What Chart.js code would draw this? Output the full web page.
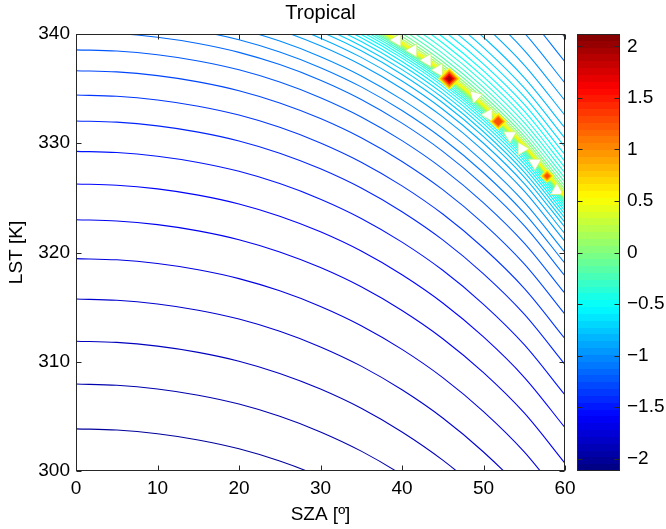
<!DOCTYPE html>
<html>
<head>
<meta charset="utf-8">
<title>Tropical</title>
<script src="https://cdn.jsdelivr.net/npm/chart.js@4/dist/chart.umd.min.js"></script>
<style>
  html, body { margin: 0; padding: 0; background: #fff; }
  #wrap { position: relative; width: 666px; height: 529px; }
  #wrap canvas { position: absolute; left: 0; top: 0; }
</style>
</head>
<body>
<div id="wrap">
  <canvas id="main" width="666" height="529"></canvas>
  <canvas id="cbar" width="666" height="529"></canvas>
</div>
<script>
// ---- data ---------------------------------------------------------------
// Solar zenith angles at which every contour is sampled
const SZA = [0, 5, 10, 15, 20, 25, 30, 35, 40, 45, 50, 55, 60];

const X_TICKS = [0, 10, 20, 30, 40, 50, 60];
const Y_TICKS = [300, 310, 320, 330, 340];
const CBAR_TICKS = [-2, -1.5, -1, -0.5, 0, 0.5, 1, 1.5, 2];
const CBAR_RANGE = [-2.12, 2.12];

// Contours below the ridge: level, then LST [K] at each SZA
const LOWER_LEVELS = [-2.00, -1.93, -1.86, -1.79, -1.72, -1.65, -1.58, -1.51, -1.44, -1.37,
                      -1.30, -1.23, -1.16, -1.09, -1.02, -0.95, -0.88, -0.81, -0.74, -0.67,
                      -0.60, -0.53, -0.46, -0.39, -0.32, -0.20, -0.05, 0.10, 0.25, 0.40, 0.50];
const LOWER_LST = [
  [303.86, 303.75, 303.41, 302.84, 302.03, 300.91, 299.48, 297.72, 295.55, 292.97, 289.86, 286.17, 281.56],
  [307.96, 307.85, 307.51, 306.94, 306.13, 305.01, 303.58, 301.82, 299.65, 297.07, 293.96, 290.27, 285.66],
  [311.88, 311.77, 311.43, 310.86, 310.05, 308.93, 307.50, 305.74, 303.57, 300.99, 297.88, 294.19, 289.58],
  [315.74, 315.63, 315.29, 314.72, 313.91, 312.79, 311.36, 309.60, 307.43, 304.85, 301.74, 298.05, 293.44],
  [319.44, 319.33, 318.99, 318.42, 317.61, 316.49, 315.06, 313.30, 311.13, 308.55, 305.44, 301.75, 297.14],
  [323.00, 322.89, 322.55, 321.98, 321.17, 320.05, 318.62, 316.86, 314.69, 312.11, 309.00, 305.31, 300.70],
  [326.27, 326.16, 325.82, 325.25, 324.44, 323.32, 321.89, 320.13, 317.96, 315.38, 312.27, 308.58, 303.97],
  [329.26, 329.15, 328.81, 328.24, 327.43, 326.31, 324.88, 323.12, 320.95, 318.37, 315.26, 311.57, 306.96],
  [332.04, 331.93, 331.59, 331.02, 330.21, 329.09, 327.66, 325.90, 323.73, 321.15, 318.04, 314.35, 309.74],
  [334.41, 334.30, 333.96, 333.39, 332.58, 331.46, 330.03, 328.27, 326.10, 323.52, 320.41, 316.72, 312.11],
  [336.64, 336.53, 336.19, 335.62, 334.81, 333.69, 332.26, 330.50, 328.33, 325.75, 322.64, 318.95, 314.34],
  [338.55, 338.44, 338.10, 337.53, 336.72, 335.60, 334.17, 332.41, 330.24, 327.66, 324.55, 320.86, 316.25],
  [340.15, 340.04, 339.70, 339.13, 338.32, 337.20, 335.77, 334.01, 331.84, 329.26, 326.15, 322.46, 317.85],
  [341.30, 341.19, 340.85, 340.28, 339.47, 338.35, 336.92, 335.16, 332.99, 330.41, 327.30, 323.61, 319.00],
  [342.30, 342.19, 341.85, 341.28, 340.47, 339.35, 337.92, 336.16, 333.99, 331.41, 328.30, 324.61, 320.00],
  [343.30, 343.19, 342.85, 342.28, 341.47, 340.35, 338.92, 337.16, 334.99, 332.41, 329.30, 325.61, 321.00],
  [344.00, 343.89, 343.55, 342.98, 342.17, 341.05, 339.62, 337.86, 335.69, 333.11, 330.00, 326.31, 321.70],
  [344.60, 344.49, 344.15, 343.58, 342.77, 341.65, 340.22, 338.46, 336.29, 333.71, 330.60, 326.91, 322.30],
  [345.05, 344.94, 344.60, 344.03, 343.22, 342.10, 340.67, 338.91, 336.74, 334.16, 331.05, 327.36, 322.75],
  [345.45, 345.34, 345.00, 344.43, 343.62, 342.50, 341.07, 339.31, 337.14, 334.56, 331.45, 327.76, 323.15],
  [345.80, 345.69, 345.35, 344.78, 343.97, 342.85, 341.42, 339.66, 337.49, 334.91, 331.80, 328.11, 323.50],
  [346.10, 345.99, 345.65, 345.08, 344.27, 343.15, 341.72, 339.96, 337.79, 335.21, 332.10, 328.41, 323.80],
  [346.35, 346.24, 345.90, 345.33, 344.52, 343.40, 341.97, 340.21, 338.04, 335.46, 332.35, 328.66, 324.05],
  [346.57, 346.46, 346.12, 345.55, 344.74, 343.62, 342.19, 340.43, 338.26, 335.68, 332.57, 328.88, 324.27],
  [346.76, 346.65, 346.31, 345.74, 344.93, 343.81, 342.38, 340.62, 338.45, 335.87, 332.76, 329.07, 324.46],
  [346.92, 346.81, 346.47, 345.90, 345.09, 343.97, 342.54, 340.78, 338.61, 336.03, 332.92, 329.23, 324.62],
  [347.05, 346.94, 346.60, 346.03, 345.22, 344.10, 342.67, 340.91, 338.74, 336.16, 333.05, 329.36, 324.75],
  [347.16, 347.05, 346.71, 346.14, 345.33, 344.21, 342.78, 341.02, 338.85, 336.27, 333.16, 329.47, 324.86],
  [347.25, 347.14, 346.80, 346.23, 345.42, 344.30, 342.87, 341.11, 338.94, 336.36, 333.25, 329.56, 324.95],
  [347.32, 347.21, 346.87, 346.30, 345.49, 344.37, 342.94, 341.18, 339.01, 336.43, 333.32, 329.63, 325.02],
  [347.38, 347.27, 346.93, 346.36, 345.55, 344.43, 343.00, 341.24, 339.07, 336.49, 333.38, 329.69, 325.08]
];

// The ridge itself
const RIDGE_LEVELS = [0.6];
const RIDGE_LST = [
  [347.45, 347.34, 347.00, 346.43, 345.62, 344.50, 343.07, 341.31, 339.14, 336.56, 333.45, 329.76, 325.15]
];

// Contours above the ridge (upper-right corner)
const UPPER_LEVELS = [0.45, 0.30, 0.15, 0.00, -0.12, -0.22, -0.32, -0.39, -0.46, -0.53,
                      -0.60, -0.67, -0.74, -0.81, -0.88, -0.95, -1.02, -1.09, -1.16];
const UPPER_LST = [
  [347.55, 347.44, 347.10, 346.53, 345.72, 344.60, 343.17, 341.41, 339.24, 336.66, 333.55, 329.86, 325.25],
  [347.68, 347.57, 347.23, 346.66, 345.85, 344.73, 343.30, 341.54, 339.37, 336.79, 333.68, 329.99, 325.38],
  [347.85, 347.74, 347.40, 346.83, 346.02, 344.90, 343.47, 341.71, 339.54, 336.96, 333.85, 330.16, 325.55],
  [348.08, 347.97, 347.63, 347.06, 346.25, 345.13, 343.70, 341.94, 339.77, 337.19, 334.08, 330.39, 325.78],
  [348.37, 348.26, 347.92, 347.35, 346.54, 345.42, 343.99, 342.23, 340.06, 337.48, 334.37, 330.68, 326.07],
  [348.72, 348.61, 348.27, 347.70, 346.89, 345.77, 344.34, 342.58, 340.41, 337.83, 334.72, 331.03, 326.42],
  [349.12, 349.01, 348.67, 348.10, 347.29, 346.17, 344.74, 342.98, 340.81, 338.23, 335.12, 331.43, 326.82],
  [349.57, 349.46, 349.12, 348.55, 347.74, 346.62, 345.19, 343.43, 341.26, 338.68, 335.57, 331.88, 327.27],
  [350.07, 349.96, 349.62, 349.05, 348.24, 347.12, 345.69, 343.93, 341.76, 339.18, 336.07, 332.38, 327.77],
  [350.62, 350.51, 350.17, 349.60, 348.79, 347.67, 346.24, 344.48, 342.31, 339.73, 336.62, 332.93, 328.32],
  [351.25, 351.14, 350.80, 350.23, 349.42, 348.30, 346.87, 345.11, 342.94, 340.36, 337.25, 333.56, 328.95],
  [351.95, 351.84, 351.50, 350.93, 350.12, 349.00, 347.57, 345.81, 343.64, 341.06, 337.95, 334.26, 329.65],
  [352.75, 352.64, 352.30, 351.73, 350.92, 349.80, 348.37, 346.61, 344.44, 341.86, 338.75, 335.06, 330.45],
  [353.70, 353.59, 353.25, 352.68, 351.87, 350.75, 349.32, 347.56, 345.39, 342.81, 339.70, 336.01, 331.40],
  [354.85, 354.74, 354.40, 353.83, 353.02, 351.90, 350.47, 348.71, 346.54, 343.96, 340.85, 337.16, 332.55],
  [356.20, 356.09, 355.75, 355.18, 354.37, 353.25, 351.82, 350.06, 347.89, 345.31, 342.20, 338.51, 333.90],
  [357.80, 357.69, 357.35, 356.78, 355.97, 354.85, 353.42, 351.66, 349.49, 346.91, 343.80, 340.11, 335.50],
  [359.75, 359.64, 359.30, 358.73, 357.92, 356.80, 355.37, 353.61, 351.44, 348.86, 345.75, 342.06, 337.45],
  [362.00, 361.89, 361.55, 360.98, 360.17, 359.05, 357.62, 355.86, 353.69, 351.11, 348.00, 344.31, 339.70]
];

// Empty grid cells along the ridge
const GAP_SZA = [39.4, 41.35, 43.1, 44.5, 49.0, 50.6, 53.25, 54.7, 56.3, 59.0];
const GAP_LST = [339.45, 338.5, 337.6, 336.7, 334.3, 332.6, 330.7, 329.5, 328.2, 325.65];

// Local maxima on the ridge
const PEAK_SZA = [45.8, 51.8, 57.8, 60.0];
const PEAK_LST = [335.9, 332.0, 327.0, 325.4];
const PEAK_VALUE = [2.05, 1.6, 1.3, 0.85];
const RING_LEVELS = [0.55, 0.9, 1.25, 1.6, 1.95];

// ---- styling helpers ----------------------------------------------------
const FONT = "'Liberation Sans', Arial, Helvetica, sans-serif";
const TEXT = '#000';
const [C_MIN, C_MAX] = CBAR_RANGE;
const GAP_ROTATION = [150, 150, 150, -90, -45, -90, 180, 90, 180, 0];

function jet(v) {
  const t = Math.min(1, Math.max(0, (v - C_MIN) / (C_MAX - C_MIN)));
  const c = x => Math.round(255 * Math.min(1, Math.max(0, x)));
  const r = c(Math.min(4 * t - 1.5, -4 * t + 4.5));
  const g = c(Math.min(4 * t - 0.5, -4 * t + 3.5));
  const b = c(Math.min(4 * t + 0.5, -4 * t + 2.5));
  return `rgb(${r},${g},${b})`;
}

function contourSets(levels, rows) {
  return levels.map((lv, i) => ({
    data: SZA.map((x, j) => ({ x, y: rows[i][j] })),
    showLine: true,
    borderColor: jet(lv),
    borderWidth: 1.1,
    pointRadius: 0,
    pointHoverRadius: 0,
    cubicInterpolationMode: 'monotone',
    order: 3
  }));
}

const gapSet = {
  data: GAP_SZA.map((x, i) => ({ x, y: GAP_LST[i] })),
  pointStyle: 'triangle',
  pointRadius: 7.5,
  pointRotation: GAP_ROTATION,
  pointBackgroundColor: '#fff',
  pointBorderColor: 'rgba(200,240,110,0.9)',
  pointBorderWidth: 0.8,
  showLine: false,
  order: 2
};

const ringPts = [], ringRadius = [], ringColor = [];
PEAK_SZA.forEach((x, k) => {
  RING_LEVELS.filter(l => l < PEAK_VALUE[k]).forEach(l => {
    ringPts.push({ x, y: PEAK_LST[k] });
    ringRadius.push(2.5 + (PEAK_VALUE[k] - l) * 5.6);
    ringColor.push(jet(l));
  });
});
const peakSet = {
  data: ringPts,
  pointStyle: 'rectRot',
  pointRadius: ringRadius,
  pointBackgroundColor: ringColor,
  pointBorderColor: ringColor,
  pointBorderWidth: 0.5,
  showLine: false,
  order: 1
};

// Box around the axes with inward tick marks on every side
const axesFrame = {
  id: 'axesFrame',
  afterDatasetsDraw(chart, args, opts) {
    const { ctx, chartArea: a } = chart;
    const l = Math.round(a.left) + 0.5, r = Math.round(a.right) - 0.5;
    const t = Math.round(a.top) + 0.5, b = Math.round(a.bottom) - 0.5;
    ctx.save();
    ctx.strokeStyle = opts.color;
    ctx.lineWidth = 1;
    ctx.beginPath();
    Object.values(chart.scales).forEach(s => {
      if (s.options.display === false || s.type === 'category') return;
      s.ticks.forEach(tk => {
        const p = Math.round(s.getPixelForValue(tk.value)) + 0.5;
        if (s.isHorizontal()) {
          ctx.moveTo(p, b); ctx.lineTo(p, b - opts.len);
          ctx.moveTo(p, t); ctx.lineTo(p, t + opts.len);
        } else {
          ctx.moveTo(l, p); ctx.lineTo(l + opts.len, p);
          ctx.moveTo(r, p); ctx.lineTo(r - opts.len, p);
        }
      });
    });
    ctx.stroke();
    ctx.strokeRect(l, t, r - l, b - t);
    ctx.restore();
  }
};

const tickFont = { family: FONT, size: 19 };
const minus = v => String(v).replace('-', '\u2212');

// ---- contour plot -------------------------------------------------------
new Chart(document.getElementById('main'), {
  type: 'scatter',
  data: {
    datasets: [
      ...contourSets(LOWER_LEVELS, LOWER_LST),
      ...contourSets(RIDGE_LEVELS, RIDGE_LST),
      ...contourSets(UPPER_LEVELS, UPPER_LST),
      gapSet,
      peakSet
    ]
  },
  options: {
    responsive: false,
    animation: false,
    devicePixelRatio: 1,
    events: [],
    layout: { padding: { left: 0, right: 101, top: 0, bottom: 0 } },
    plugins: {
      legend: { display: false },
      tooltip: { enabled: false },
      title: {
        display: true,
        text: 'Tropical',
        fullSize: false,
        color: TEXT,
        font: { family: FONT, size: 20, weight: 'normal', lineHeight: 1.2 },
        padding: { top: 1, bottom: 9 }
      },
      axesFrame: { color: '#262626', len: 5 }
    },
    scales: {
      x: {
        type: 'linear', min: 0, max: 60,
        grid: { display: false, drawTicks: false },
        border: { display: false },
        afterBuildTicks: s => { s.ticks = X_TICKS.map(v => ({ value: v })); },
        afterFit: s => { s.height = 58; s.paddingLeft = 0; s.paddingRight = 0; },
        ticks: { font: tickFont, color: TEXT, padding: 6, maxRotation: 0, autoSkip: false, callback: minus },
        title: { display: true, text: 'SZA [º]', font: tickFont, color: TEXT, padding: { top: 0, bottom: 3 } }
      },
      y: {
        type: 'linear', min: 300, max: 340,
        grid: { display: false, drawTicks: false },
        border: { display: false },
        afterBuildTicks: s => { s.ticks = Y_TICKS.map(v => ({ value: v })); },
        afterFit: s => { s.width = 76; s.paddingTop = 0; s.paddingBottom = 0; },
        ticks: { font: tickFont, color: TEXT, padding: 6, autoSkip: false, callback: minus },
        title: { display: true, text: 'LST [K]', font: tickFont, color: TEXT, padding: { top: 5, bottom: 0 } }
      }
    }
  },
  plugins: [axesFrame]
});

// ---- colour bar ---------------------------------------------------------
function jetGradient(chart) {
  const a = chart.chartArea;
  if (!a) return 'rgba(0,0,0,0)';
  const g = chart.ctx.createLinearGradient(0, a.bottom, 0, a.top);
  const n = 64;
  for (let i = 0; i < n; i++) {
    const col = jet(C_MIN + (i + 0.5) / n * (C_MAX - C_MIN));
    g.addColorStop(i / n, col);
    g.addColorStop((i + 1) / n, col);
  }
  return g;
}

new Chart(document.getElementById('cbar'), {
  type: 'bar',
  data: {
    labels: [''],
    datasets: [{
      data: [CBAR_RANGE],
      backgroundColor: ctx => jetGradient(ctx.chart),
      borderWidth: 0,
      barPercentage: 1,
      categoryPercentage: 1
    }]
  },
  options: {
    responsive: false,
    animation: false,
    devicePixelRatio: 1,
    events: [],
    layout: { padding: { left: 577, right: 0, top: 34, bottom: 58 } },
    plugins: {
      legend: { display: false },
      tooltip: { enabled: false },
      axesFrame: { color: '#262626', len: 5 }
    },
    scales: {
      x: { display: false },
      y: {
        position: 'right', min: C_MIN, max: C_MAX,
        grid: { display: false, drawTicks: false },
        border: { display: false },
        afterBuildTicks: s => { s.ticks = CBAR_TICKS.map(v => ({ value: v })); },
        afterFit: s => { s.width = 46; s.paddingTop = 0; s.paddingBottom = 0; },
        ticks: { font: tickFont, color: TEXT, padding: 7, autoSkip: false, callback: minus }
      }
    }
  },
  plugins: [axesFrame]
});
</script>
</body>
</html>
